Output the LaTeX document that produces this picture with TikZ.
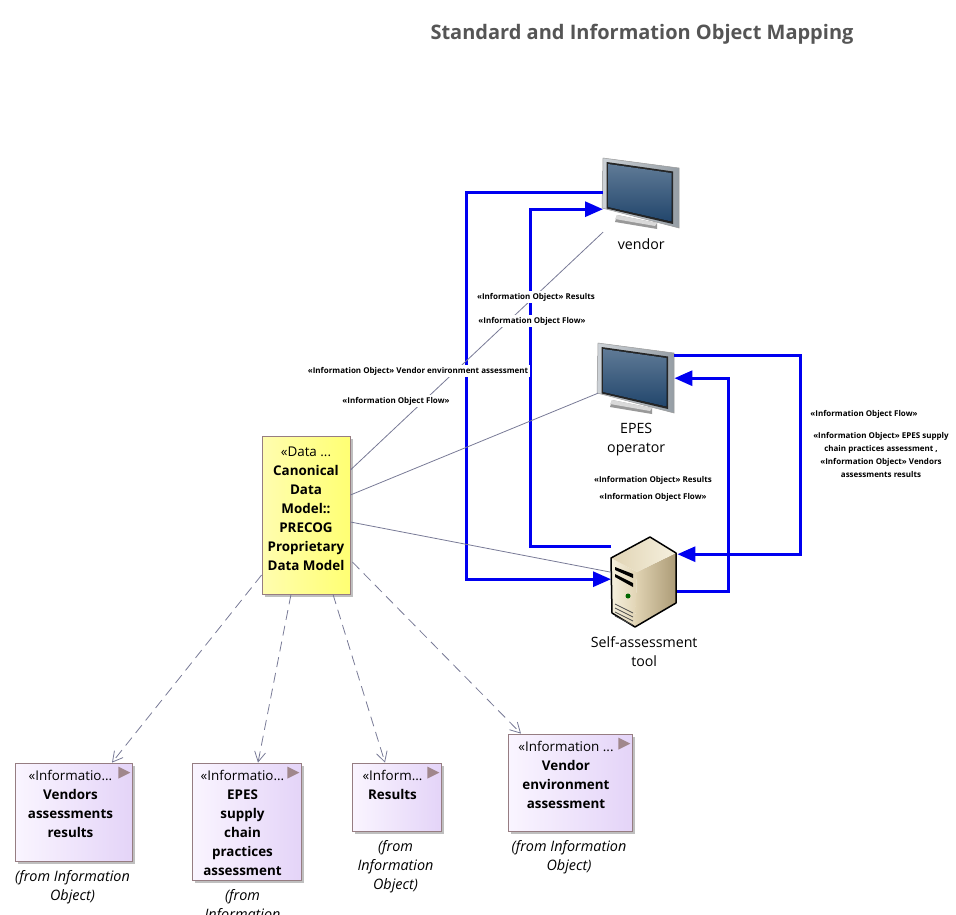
\documentclass[tikz,border=0pt]{standalone}
\usepackage{fontspec}
\setmainfont{Open Sans}
\usetikzlibrary{arrows.meta,positioning,shadows}

\definecolor{flowblue}{RGB}{0,0,240}
\definecolor{linkgray}{RGB}{120,122,150}
\definecolor{boxedge}{RGB}{150,125,130}
\definecolor{tagcolor}{RGB}{160,135,140}
\definecolor{titlegray}{RGB}{85,85,85}
\definecolor{lilacleft}{RGB}{250,245,255}
\definecolor{lilacright}{RGB}{228,212,248}
\definecolor{yellowleft}{RGB}{255,253,175}
\definecolor{yellowright}{RGB}{255,255,115}
\definecolor{screenlight}{RGB}{95,122,150}
\definecolor{screenmid}{RGB}{22,42,76}
\definecolor{screendark}{RGB}{34,70,108}
\definecolor{framelight}{RGB}{205,210,215}
\definecolor{framedark}{RGB}{150,158,165}
\definecolor{creamlight}{RGB}{245,240,222}
\definecolor{creammid}{RGB}{225,212,180}
\definecolor{creamdark}{RGB}{172,155,118}

\tikzset{flowline/.style = {draw=flowblue, line width=3pt},
         flowarrow/.style = {flowline, -{Triangle[length=18pt,width=15pt]}},
         linkline/.style = {draw=linkgray, line width=0.8pt},
         depline/.style = {draw=linkgray, line width=0.8pt, dash pattern=on 10pt off 6pt,
                           -{Straight Barb[length=10pt,width=11pt]}},
         basebox/.style = {draw=boxedge, line width=0.8pt, inner sep=0pt,
                           drop shadow={shadow xshift=3pt, shadow yshift=-3pt, fill=black!25, opacity=1}},
         infobox/.style = {basebox, left color=lilacleft, right color=lilacright},
         databox/.style = {basebox, left color=yellowleft, right color=yellowright},
         boxtext/.style = {anchor=north, align=center, inner sep=0pt,
                           font=\fontsize{13.4}{19}\selectfont},
         caption/.style = {align=center, inner sep=0pt,
                           font=\fontsize{14.4}{19}\selectfont\itshape},
         actorname/.style = {align=center, inner sep=0pt,
                             font=\fontsize{14.2}{19}\selectfont},
         flowlabel/.style = {fill=white, align=center, inner sep=1.5pt,
                             font=\fontsize{8}{13}\selectfont\bfseries},
         monitor/.pic = {
           \node[minimum width=76pt, minimum height=72pt, inner sep=0pt, anchor=north west] (-body) at (0,0) {};
           \fill[black!40] (14,57) -- (54,65) -- (54,71) -- (12,64) -- cycle;
           \fill[black!15] (14,57) -- (54,65) -- (52,68) -- (12,61) -- cycle;
           \path[draw=black!40, line width=0.5pt, left color=framelight, right color=framedark]
             (0,0) -- (76,10) -- (76,70) -- (-1,50) -- cycle;
           \fill[black!85] (3.5,4) -- (70,13.5) -- (70,66) -- (3.5,50.5) -- cycle;
           \fill[shading angle=125, shade, top color=screenlight, middle color=screenmid, bottom color=screendark]
             (5,6) -- (68.5,15) -- (68.5,63.5) -- (5,49) -- cycle;
         },
         server/.pic = {
           \node[minimum width=66pt, minimum height=90pt, inner sep=0pt, anchor=north west] (-body) at (0,0) {};
           \path[left color=creamlight, right color=creammid]
             (0,21) -- (26,35) -- (24,90) -- (1,76) -- cycle;
           \path[left color=creammid, right color=creamdark]
             (26,35) -- (65,16) -- (65,66) -- (24,90) -- cycle;
           \path[left color=creammid, right color=creamlight]
             (0,21) -- (39,0) -- (65,16) -- (26,35) -- cycle;
           \draw[black, line width=1.5pt, line join=round]
             (0,21) -- (39,0) -- (65,16) -- (65,66) -- (24,90) -- (1,76) -- cycle;
           \fill[black] (4,30) -- (22,37) -- (22,41) -- (4,33) -- cycle;
           \fill[black] (4,37) -- (22,46) -- (22,50) -- (4,40) -- cycle;
           \fill[green!40!black] (17,59) circle (2.5);
           \foreach \v in {0,1,2,3}
             \draw[black!70, line width=0.8pt] (4,67+4*\v) -- (22,76+4*\v);
         }
        }

\begin{document}
\begin{tikzpicture}[x=1pt, y=-1pt]
  \useasboundingbox (0,0) rectangle (956,915);
  \clip (0,0) rectangle (956,915);

  \node[font=\fontsize{20}{24}\selectfont\bfseries, text=titlegray, inner sep=0pt] (title) at (642,34)
    {Standard and Information Object Mapping};

  % actors
  \pic (vendor) at (603,158) {monitor};
  \pic (epes) at (598,343) {monitor};
  \pic (tool) at (611,537) {server};
  \node[actorname, below=8pt of vendor-body] (vendor-name) {vendor};
  \node[actorname, below=8pt of epes-body] (epes-name) {EPES\\operator};
  \node[actorname, below=9pt of tool-body] (tool-name) {Self-assessment\\tool};

  % data model and information objects
  \node[databox, minimum width=88pt, minimum height=158pt] (data) at (306,515) {};
  \node[infobox, minimum width=117pt, minimum height=98pt] (vendors) at (73.5,812) {};
  \node[infobox, minimum width=109pt, minimum height=117pt] (epesobj) at (246.5,821.5) {};
  \node[infobox, minimum width=89pt, minimum height=68pt] (results) at (396.5,797) {};
  \node[infobox, minimum width=124pt, minimum height=97pt] (envir) at (570,782.5) {};

  \node[boxtext] (data-text) at ([yshift=-11pt]data.north) {«Data ...\\\textbf{Canonical}\\\textbf{Data}\\\textbf{Model::}\\\textbf{PRECOG}\\\textbf{Proprietary}\\\textbf{Data Model}};
  \node[boxtext] (vendors-text) at ([xshift=-3pt,yshift=-7pt]vendors.north) {«Informatio...\\\textbf{Vendors}\\\textbf{assessments}\\\textbf{results}};
  \node[boxtext] (epesobj-text) at ([xshift=-4pt,yshift=-7pt]epesobj.north) {«Informatio...\\\textbf{EPES}\\\textbf{supply}\\\textbf{chain}\\\textbf{practices}\\\textbf{assessment}};
  \node[boxtext] (results-text) at ([xshift=-4pt,yshift=-7pt]results.north) {«Inform...\\\textbf{Results}};
  \node[boxtext] (envir-text) at ([xshift=-4pt,yshift=-7pt]envir.north) {«Information ...\\\textbf{Vendor}\\\textbf{environment}\\\textbf{assessment}};

  \foreach \b in {vendors,epesobj,results,envir}
    \fill[tagcolor] ([shift={(-14pt,-4pt)}]\b.north east) -- ++(12,6) -- ++(-12,6) -- cycle;

  \node[caption, below=9pt of vendors, xshift=-1pt] (vendors-from) {(from Information\\Object)};
  \node[caption, below=9pt of epesobj, xshift=-4pt] (epesobj-from) {(from\\Information\\Object)};
  \node[caption, below=9pt of results, xshift=-1pt] (results-from) {(from\\Information\\Object)};
  \node[caption, below=9pt of envir, xshift=-1pt] (envir-from) {(from Information\\Object)};

  % flows
  \draw[flowarrow] ([yshift=2pt]vendor-body.west) -- ++(-137,0) |- ([yshift=3pt]tool-body.west);
  \draw[flowarrow] ([yshift=36pt]tool-body.west) -- ++(-81,0) |- ([yshift=-15pt]vendor-body.west);
  \draw[flowarrow] ([yshift=24pt]epes-body.east) -- ++(126,0) |- ([yshift=28pt]tool-body.east);
  \draw[flowarrow] ([yshift=-9pt]tool-body.east) -- ++(51,0) |- ([yshift=1pt]epes-body.east);

  % links
  \draw[linkline] ([yshift=45pt]data.east) -- ([yshift=-38pt]vendor-body.west);
  \draw[linkline] ([yshift=20pt]data.east) -- ([yshift=-14pt]epes-body.west);
  \draw[linkline] ([yshift=-7pt]data.east) -- ([yshift=10pt]tool-body.west);

  \draw[depline] ([yshift=-60pt]data.west) -- ([xshift=38.5pt]vendors.north);
  \draw[depline] ([xshift=-15pt]data.south) -- ([xshift=11.5pt]epesobj.north);
  \draw[depline] ([xshift=27pt]data.south) -- ([xshift=-11.5pt]results.north);
  \draw[depline] ([xshift=2pt,yshift=-47pt]data.east) -- ([xshift=-49pt]envir.north);

  % labels
  \node[flowlabel] (vendor-info) at (536,297) {«Information Object» Results};
  \node[flowlabel] (vendor-flow) at (532,321) {«Information Object Flow»};
  \node[flowlabel] (data-info) at (418,371) {«Information Object» Vendor environment assessment};
  \node[flowlabel] (data-flow) at (396,401) {«Information Object Flow»};
  \node[flowlabel] (epes-info) at (653,480) {«Information Object» Results};
  \node[flowlabel] (epes-flow) at (653,497) {«Information Object Flow»};
  \node[flowlabel] (right-flow) at (864,414) {«Information Object Flow»};
  \node[flowlabel] (right-info) at (881,455) {«Information Object» EPES supply\\chain practices assessment ,\\«Information Object» Vendors\\assessments results};
\end{tikzpicture}
\end{document}
